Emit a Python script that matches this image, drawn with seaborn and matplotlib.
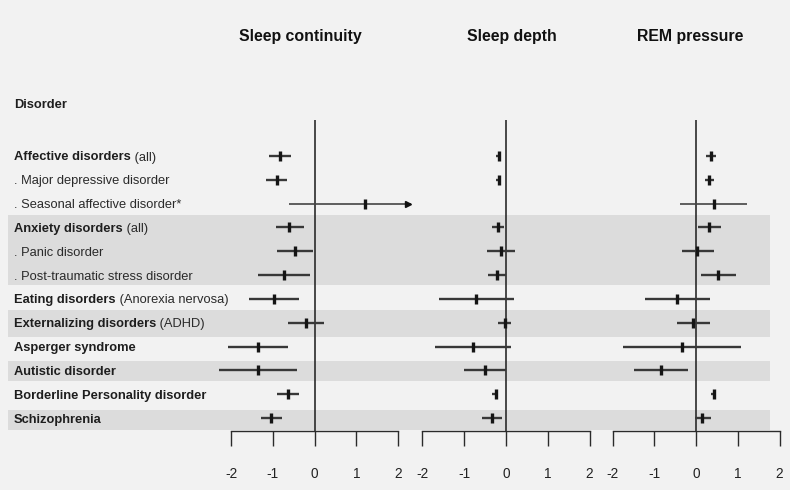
import numpy as np
import pandas as pd
import matplotlib
matplotlib.use("Agg")
import matplotlib.pyplot as plt
from matplotlib.patches import Rectangle
import seaborn as sns

nan = np.nan

# ---------------- data ----------------
labels_bold = ["Affective disorders", "", "", "Anxiety disorders", "", "",
               "Eating disorders", "Externalizing disorders", "Asperger syndrome",
               "Autistic disorder", "Borderline Personality disorder", "Schizophrenia"]
labels_regular = [" (all)", ". Major depressive disorder", ". Seasonal affective disorder*",
                  " (all)", ". Panic disorder", ". Post-traumatic stress disorder",
                  " (Anorexia nervosa)", " (ADHD)", "", "", "", ""]

panel_titles = ["Sleep continuity", "Sleep depth", "REM pressure"]

cont_est = [-0.83, -0.89, 1.20, -0.60, -0.47, -0.73, -0.97, -0.21, -1.35, -1.35, -0.64, -1.04]
cont_lo = [-1.09, -1.15, -0.61, -0.93, -0.89, -1.35, -1.57, -0.63, -2.06, -2.28, -0.90, -1.28]
cont_hi = [-0.56, -0.65, 2.60, -0.25, -0.03, -0.10, -0.36, 0.22, -0.63, -0.41, -0.38, -0.79]

depth_est = [-0.17, -0.17, nan, -0.19, -0.13, -0.22, -0.72, -0.03, -0.80, -0.51, -0.25, -0.34]
depth_lo = [-0.23, -0.23, nan, -0.33, -0.45, -0.43, -1.61, -0.19, -1.71, -1.00, -0.33, -0.58]
depth_hi = [-0.11, -0.11, nan, -0.05, 0.21, 0.00, 0.18, 0.13, 0.11, 0.00, -0.18, -0.09]

rem_est = [0.35, 0.31, 0.42, 0.31, 0.03, 0.53, -0.45, -0.07, -0.34, -0.85, 0.42, 0.15]
rem_lo = [0.23, 0.21, -0.38, 0.04, -0.34, 0.13, -1.21, -0.46, -1.76, -1.49, 0.35, -0.03]
rem_hi = [0.48, 0.44, 1.21, 0.59, 0.42, 0.95, 0.33, 0.33, 1.08, -0.18, 0.49, 0.35]

thin_rows = [2]          # Seasonal affective disorder drawn with a thinner line
x_ticks = [-2, -1, 0, 1, 2]
x_clip = 2.3             # upper display limit (arrow beyond)

# ---------------- layout ----------------
W, H = 800, 501
row0_px, row_step = 156.0, 23.82
panel_top_px, panel_bot_px = 120.0, 431.0
unit_px = 41.75
zeros_px = [314.5, 506.0, 696.0]
title_x_px = [300, 512, 690]
bands = [(2.48, 5.42), (6.47, 7.60), (8.60, 9.45), (10.66, 11.50)]

sns.set_style("white")
plt.rcParams["font.family"] = ["Liberation Sans", "DejaVu Sans"]

fig = plt.figure(figsize=(W / 100, H / 100), dpi=100)
fig.patch.set_facecolor("white")

# background axes in pixel-x / row-y coordinates
bg = fig.add_axes([0, 0, 1, 1])
bg.set_xlim(0, W)
bg.set_ylim((H - row0_px) / row_step, -row0_px / row_step)
bg.axis("off")
fig.patches.append(Rectangle((0, (H - 490) / H), 790 / W, 490 / H,
                             transform=fig.transFigure, facecolor="#f2f2f2",
                             edgecolor="none", zorder=-10))
for b0, b1 in bands:
    bg.add_patch(Rectangle((8, b0), 770 - 8, b1 - b0, facecolor="#dcdcdc",
                           edgecolor="none", zorder=0))

txt_col = "#1e1e1e"
fs = 9.3
bg.text(14, (103 - row0_px) / row_step, "Disorder", weight="bold", fontsize=fs,
        color=txt_col, va="center_baseline", ha="left")
for i, (b, r) in enumerate(zip(labels_bold, labels_regular)):
    if b:
        t = bg.text(14, i, b, weight="bold", fontsize=fs, color=txt_col,
                    va="center_baseline", ha="left")
        if r:
            bg.annotate(r, xy=(1, i), xycoords=(t, bg.transData), fontsize=fs,
                        color="#2a2a2a", va="center_baseline", ha="left")
    else:
        bg.text(14, i, r, fontsize=fs, color="#2a2a2a", va="center_baseline", ha="left")

for tx, title in zip(title_x_px, panel_titles):
    fig.text(tx / W, 1 - 36 / H, title, ha="center", va="center", weight="bold",
             fontsize=11.4, color="#111111")

# ---------------- panels ----------------
panels = [(cont_est, cont_lo, cont_hi), (depth_est, depth_lo, depth_hi),
          (rem_est, rem_lo, rem_hi)]
half_w = 2.4
ylim = ((panel_bot_px - row0_px) / row_step, (panel_top_px - row0_px) / row_step)
for k, (est, lo, hi) in enumerate(panels):
    z = zeros_px[k]
    left = (z - half_w * unit_px) / W
    width = 2 * half_w * unit_px / W
    ax = fig.add_axes([left, (H - panel_bot_px) / H, width,
                       (panel_bot_px - panel_top_px) / H])
    ax.patch.set_alpha(0)
    df = pd.DataFrame({"row": np.arange(len(est)), "est": est, "lo": lo, "hi": hi})
    df = df.dropna()
    ax.axvline(0, color="#2b2b2b", lw=1.2, zorder=1)
    for _, rr in df.iterrows():
        thin = int(rr["row"]) in thin_rows
        h = min(rr["hi"], x_clip)
        ax.hlines(rr["row"], rr["lo"], h, color="#444444" if thin else "#383838",
                  lw=1.2 if thin else 1.7, zorder=2, clip_on=False)
        if rr["hi"] > x_clip:
            ax.plot([h - 0.06], [rr["row"]], marker=">", color="#111111",
                    markersize=5, clip_on=False, zorder=3)
    sns.scatterplot(data=df, x="est", y="row", marker="|", s=60, linewidth=2.4,
                    color="#151515", ax=ax, zorder=4, legend=False, clip_on=False)
    ax.set_xlim(-half_w, half_w)
    ax.set_ylim(*ylim)
    ax.set_xticks(x_ticks)
    ax.set_xticklabels([str(v) for v in x_ticks])
    ax.set_yticks([])
    ax.set_xlabel("")
    ax.set_ylabel("")
    for s in ["top", "right", "left"]:
        ax.spines[s].set_visible(False)
    ax.spines["bottom"].set_bounds(-2, 2)
    ax.spines["bottom"].set_color("#2b2b2b")
    ax.spines["bottom"].set_linewidth(1.0)
    ax.tick_params(axis="x", bottom=True, direction="out", length=11, width=1.0,
                   color="#2b2b2b", pad=15, labelsize=9.8, labelcolor="#222222")

fig.savefig("out.png", dpi=100, facecolor=fig.get_facecolor())
